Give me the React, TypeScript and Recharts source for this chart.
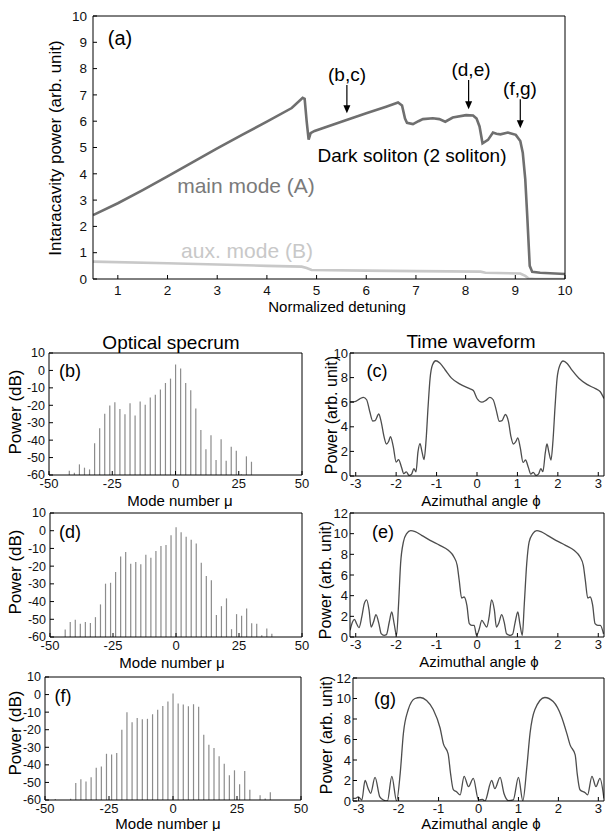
import React from 'react'
import { LineChart, Line, BarChart, Bar, XAxis, YAxis, ReferenceLine } from 'recharts'

const FONT = '"Liberation Sans", Arial, Helvetica, sans-serif'

// ---- (a) detuning scan ----
const detuneTicks = [1, 2, 3, 4, 5, 6, 7, 8, 9, 10]
const powerTicksA = [0, 1, 2, 3, 4, 5, 6, 7, 8, 9, 10]
const mainDetuning = [0.5, 1, 1.5, 2, 2.5, 3, 3.5, 4, 4.5, 4.72, 4.76, 4.8, 4.84, 4.88, 4.96, 5.5, 6, 6.4, 6.64, 6.72, 6.78, 6.82, 6.94, 7.05, 7.14, 7.34, 7.47, 7.59, 7.74, 8.01, 8.15, 8.22, 8.28, 8.34, 8.45, 8.55, 8.62, 8.7, 8.85, 9.01, 9.1, 9.15, 9.2, 9.24, 9.29, 9.34, 9.5, 10]
const mainPower = [2.43, 2.88, 3.38, 3.9, 4.43, 4.97, 5.48, 5.98, 6.5, 6.89, 6.85, 6.0, 5.3, 5.55, 5.63, 5.98, 6.3, 6.55, 6.71, 6.6, 6.1, 5.94, 5.89, 6.0, 6.08, 6.11, 6.08, 5.98, 6.14, 6.23, 6.22, 6.1, 5.8, 5.16, 5.29, 5.57, 5.52, 5.5, 5.57, 5.48, 5.25, 4.8, 3.8, 2.4, 0.5, 0.27, 0.24, 0.19]
const auxDetuning = [0.5, 2, 3, 4, 4.7, 4.8, 4.9, 6, 7, 8.3, 8.4, 9.1, 9.2, 9.27, 9.4, 10]
const auxPower = [0.66, 0.6, 0.55, 0.5, 0.47, 0.42, 0.34, 0.32, 0.3, 0.28, 0.24, 0.21, 0.12, 0.02, 0, 0]
const arrowDetuning = [5.61, 8.06, 9.1]
const arrowFrom = [7.38, 7.57, 6.83]
const arrowTo = [6.3, 6.45, 5.73]

// ---- spectra ----
const modeTicks = [-50, -25, 0, 25, 50]
const dbTicks = [-60, -50, -40, -30, -20, -10, 0, 10]
const DB_FLOOR = -60
const modesB = [-42, -40, -38, -36, -34, -32, -30, -28, -26, -24, -22, -20, -18, -16, -14, -12, -10, -8, -6, -4, -2, 0, 2, 4, 6, 8, 10, 12, 14, 16, 18, 20, 22, 24, 26, 28, 30]
const dbB = [-57.6, -58.7, -53.9, -55.8, -56.8, -41.8, -33.2, -24.9, -20.1, -18.2, -22.1, -25.1, -18.8, -25.9, -17.8, -19.7, -15.5, -13.9, -11, -7.2, -4.7, 3.4, 1.1, -7.2, -11.4, -21.8, -34.2, -45.2, -37.2, -51.4, -39.5, -51.8, -43.8, -46.1, -59.5, -49.3, -52.4]
const modesD = [-44, -42, -40, -38, -36, -34, -32, -30, -28, -26, -24, -22, -20, -18, -16, -14, -12, -10, -8, -6, -4, -2, 0, 2, 4, 6, 8, 10, 12, 14, 16, 18, 20, 22, 24, 26, 28, 30, 32, 34, 36, 38]
const dbD = [-55.7, -51.6, -50.3, -52.5, -51.6, -52.1, -48.8, -41.6, -29.9, -29.4, -23.3, -14.5, -12, -18.6, -17.7, -19, -13.5, -15.2, -11.5, -8.6, -8.0, -2.5, 2.0, -0.9, -3.4, -5.1, -7.2, -18.1, -25.6, -27.9, -47.6, -42.6, -38.2, -55.6, -47.1, -48, -43.9, -52.2, -52.5, -59, -55.2, -58.2]
const modesF = [-46, -40, -38, -36, -34, -32, -30, -28, -26, -24, -22, -20, -18, -16, -14, -12, -10, -8, -6, -4, -2, 0, 2, 4, 6, 8, 10, 12, 14, 16, 18, 20, 22, 24, 26, 28, 30, 34, 36, 38]
const dbF = [-59.5, -59.3, -50.3, -48.2, -49.5, -47, -41.7, -41, -33.7, -34.1, -33.2, -20, -10, -15.7, -13.4, -14, -13.8, -11.2, -8.7, -6.5, -4, 0.6, -5.1, -5.7, -6.6, -5.5, -7, -22.8, -28.5, -30.4, -35.1, -39.3, -45.9, -43.1, -51, -43.5, -54.1, -57.3, -59.2, -55.6]

// ---- time waveforms ----
const phiTicks = [-3, -2, -1, 0, 1, 2, 3]
const powTicksC = [0, 2, 4, 6, 8, 10]
const powTicksEG = [0, 2, 4, 6, 8, 10, 12]
const phiC = [-3.14, -3.02, -2.9, -2.81, -2.73, -2.65, -2.58, -2.52, -2.43, -2.37, -2.3, -2.24, -2.19, -2.14, -2.07, -2.0, -1.94, -1.87, -1.81, -1.75, -1.68, -1.62, -1.56, -1.51, -1.46, -1.41, -1.36, -1.31, -1.26, -1.21, -1.16, -1.1, -1.02, -0.92, -0.79, -0.63, -0.42, -0.21, -0.09, 0.0, 0.12, 0.22, 0.32, 0.4, 0.48, 0.55, 0.62, 0.7, 0.78, 0.84, 0.9, 0.96, 1.01, 1.07, 1.14, 1.2, 1.27, 1.33, 1.39, 1.46, 1.52, 1.58, 1.63, 1.69, 1.73, 1.78, 1.83, 1.88, 1.93, 1.98, 2.05, 2.13, 2.23, 2.35, 2.52, 2.72, 2.93, 3.05, 3.14]
const powC = [6.05, 6.05, 6.27, 6.4, 6.2, 5.2, 4.47, 4.5, 5.04, 4.4, 3.2, 2.6, 2.78, 3.19, 2.37, 1.14, 1.33, 0.74, 0.19, 0.33, 0.05, 0.14, 0.6, 0.33, 1.96, 2.64, 1.96, 1.34, 2.9, 5.64, 7.96, 9.05, 9.37, 9.18, 8.64, 7.96, 7.47, 7.14, 6.95, 6.3, 6.0, 6.15, 6.4, 6.2, 5.3, 4.45, 4.5, 5.0, 4.4, 3.2, 2.6, 2.8, 3.1, 2.3, 1.1, 1.3, 0.7, 0.15, 0.3, 0.05, 0.15, 0.6, 0.35, 1.9, 2.6, 1.9, 1.3, 2.9, 5.6, 7.9, 9.0, 9.35, 9.15, 8.6, 7.95, 7.45, 7.1, 6.85, 6.3]
const phiE = [-3.14, -3.08, -3.03, -2.98, -2.92, -2.85, -2.79, -2.73, -2.67, -2.62, -2.56, -2.5, -2.43, -2.37, -2.3, -2.24, -2.17, -2.11, -2.05, -1.99, -1.94, -1.89, -1.82, -1.74, -1.64, -1.53, -1.37, -1.16, -0.92, -0.71, -0.57, -0.49, -0.44, -0.38, -0.32, -0.25, -0.19, -0.13, -0.07, -0.01, 0.05, 0.12, 0.17, 0.24, 0.3, 0.36, 0.43, 0.48, 0.54, 0.61, 0.68, 0.73, 0.82, 0.88, 0.94, 1.01, 1.06, 1.12, 1.17, 1.23, 1.29, 1.38, 1.48, 1.58, 1.74, 1.95, 2.19, 2.4, 2.55, 2.63, 2.68, 2.74, 2.8, 2.86, 2.92, 2.99, 3.05, 3.13]
const powE = [0.65, 1.45, 1.7, 1.3, 0.9, 1.94, 3.2, 3.6, 2.6, 0.97, 1.45, 2.16, 1.35, 0.32, 0.16, 0.23, 1.45, 2.42, 1.3, 0.16, 3.2, 7.1, 9.2, 10.0, 10.3, 10.2, 9.84, 9.35, 8.87, 8.39, 7.74, 6.94, 5.48, 3.77, 3.87, 3.06, 1.29, 1.13, 1.13, 0.16, 0.7, 1.6, 1.35, 0.97, 1.94, 3.6, 2.6, 0.97, 1.35, 2.16, 1.3, 0.32, 0.16, 0.26, 1.35, 2.42, 1.3, 0.16, 3.2, 7.1, 9.2, 10.0, 10.3, 10.2, 9.84, 9.35, 8.87, 8.39, 7.74, 6.94, 5.48, 3.77, 3.87, 3.1, 1.29, 1.13, 1.13, 0.3]
const phiG = [-3.14, -3.09, -3.01, -2.92, -2.84, -2.76, -2.7, -2.59, -2.47, -2.38, -2.28, -2.17, -2.05, -1.96, -1.88, -1.76, -1.59, -1.46, -1.3, -1.13, -0.96, -0.88, -0.76, -0.7, -0.63, -0.55, -0.46, -0.36, -0.25, -0.13, 0.0, 0.1, 0.16, 0.33, 0.41, 0.54, 0.64, 0.75, 0.87, 1.0, 1.11, 1.21, 1.29, 1.41, 1.66, 1.87, 2.08, 2.21, 2.29, 2.42, 2.47, 2.54, 2.67, 2.73, 2.84, 2.94, 3.04, 3.14]
const powG = [0.25, 0.25, 0.4, 0.1, 2.0, 1.2, 0.75, 2.3, 0.4, 0.1, 0.0, 2.4, 0.0, 2.7, 6.6, 8.9, 10.0, 10.1, 9.8, 8.9, 7.1, 5.6, 4.6, 2.7, 1.1, 0.9, 0.6, 2.4, 1.4, 2.2, 0.1, 0.16, 0.0, 2.0, 1.2, 2.3, 0.7, 0.03, 0.1, 2.3, 0.03, 3.3, 6.6, 8.9, 10.1, 9.7, 8.2, 6.6, 5.5, 4.5, 2.7, 1.1, 0.8, 0.6, 2.4, 1.4, 2.2, 0.25]

const toRows = (xs: number[], ys: number[]) => xs.map((x, i) => ({ x, y: ys[i] }))
const toBars = (xs: number[], db: number[]) => xs.map((x, i) => ({ x, span: [DB_FLOOR, db[i]] }))

// layout
const PAD = 8
const YW = 46
const XH = 24
const MARGIN = { top: PAD, right: PAD, bottom: 0, left: 0 }
type Box = { x: number; y: number; w: number; h: number }
const boxA: Box = { x: 93, y: 16, w: 472, h: 263 }
const boxB: Box = { x: 49, y: 353, w: 253, h: 122 }
const boxC: Box = { x: 350, y: 353, w: 254, h: 123 }
const boxD: Box = { x: 50, y: 513, w: 252, h: 124 }
const boxE: Box = { x: 350, y: 513, w: 254, h: 124 }
const boxF: Box = { x: 45, y: 677, w: 256, h: 123 }
const boxG: Box = { x: 353, y: 678, w: 251, h: 123 }
const PI = Math.PI

const size = (b: Box) => ({ width: YW + b.w + 1 + PAD, height: PAD + 1 + b.h + XH })

function frame(xDomain: number[], xTicks: number[], yDomain: number[], yTicks: number[], fs: number, xm: number, ym: number, yfs = fs) {
  const tickStyle = { fontSize: fs, fill: '#111', fontFamily: FONT }
  const yTickStyle = { fontSize: yfs, fill: '#111', fontFamily: FONT }
  return [
    <XAxis key="xb" xAxisId="b" type="number" dataKey="x" domain={xDomain} ticks={xTicks} interval={0} allowDataOverflow tickSize={-4} tickMargin={xm} tick={tickStyle} stroke="#000" height={XH} />,
    <XAxis key="xt" xAxisId="t" orientation="top" type="number" dataKey="x" domain={xDomain} ticks={xTicks} interval={0} allowDataOverflow tickSize={-4} tick={false} stroke="#000" height={1} />,
    <YAxis key="yl" yAxisId="l" type="number" domain={yDomain} ticks={yTicks} interval={0} allowDataOverflow tickSize={-4} tickMargin={ym} tick={yTickStyle} stroke="#000" width={YW} />,
    <YAxis key="yr" yAxisId="r" orientation="right" type="number" domain={yDomain} ticks={yTicks} interval={0} allowDataOverflow tickSize={-4} tick={false} stroke="#000" width={1} />,
  ]
}

function Slot({ box, children }: { box: Box; children: React.ReactNode }) {
  return <div style={{ position: 'absolute', left: box.x - YW, top: box.y - PAD - 1 }}>{children}</div>
}

function Txt({ x, y, size: fs, color = '#000', rotate = false, children }: any) {
  return (
    <div
      style={{
        position: 'absolute',
        left: x,
        top: y,
        transform: `translate(-50%, -50%)${rotate ? ' rotate(-90deg)' : ''}`,
        fontSize: fs,
        color,
        whiteSpace: 'nowrap',
        lineHeight: 1,
        fontFamily: FONT,
      }}
    >
      {children}
    </div>
  )
}

const ArrowShape = (p: any) => {
  const { x1, y1, x2, y2 } = p
  if ([x1, y1, x2, y2].some((v) => typeof v !== 'number' || isNaN(v))) return <g />
  const dir = y2 > y1 ? 1 : -1
  return (
    <g>
      <line x1={x1} y1={y1} x2={x2} y2={y2 - dir * 6} stroke="#000" strokeWidth={1.2} />
      <path d={`M${x2 - 3.5},${y2 - dir * 8} L${x2 + 3.5},${y2 - dir * 8} L${x2},${y2} Z`} fill="#000" />
    </g>
  )
}

function Spectrum({ box, modes, db }: { box: Box; modes: number[]; db: number[] }) {
  return (
    <Slot box={box}>
      <BarChart {...size(box)} data={toBars(modes, db)} margin={MARGIN} barGap={0} barCategoryGap={0}>
        {frame([-50, 50], modeTicks, [-60, 10], dbTicks, 13, 8, 8, 12.5)}
        <Bar xAxisId="b" yAxisId="l" dataKey="span" fill="#8c8c8c" barSize={1.2} isAnimationActive={false} />
      </BarChart>
    </Slot>
  )
}

function Waveform({ box, phi, pow, yMax, yTicks }: { box: Box; phi: number[]; pow: number[]; yMax: number; yTicks: number[] }) {
  return (
    <Slot box={box}>
      <LineChart {...size(box)} margin={MARGIN}>
        {frame([-PI, PI], phiTicks, [0, yMax], yTicks, 13, 7, 6)}
        <Line xAxisId="b" yAxisId="l" data={toRows(phi, pow)} dataKey="y" type="monotone" stroke="#4d4d4d" strokeWidth={1.3} dot={false} isAnimationActive={false} />
      </LineChart>
    </Slot>
  )
}

export default function App() {
  return (
    <div style={{ position: 'absolute', left: 0, top: 0, width: 606, height: 831, background: '#fff', overflow: 'hidden', fontFamily: FONT }}>
      <Slot box={boxA}>
        <LineChart {...size(boxA)} margin={MARGIN}>
          {frame([0.5, 10], detuneTicks, [0, 10], powerTicksA, 13.5, 10, 10)}
          <Line xAxisId="b" yAxisId="l" data={toRows(auxDetuning, auxPower)} dataKey="y" type="linear" stroke="#c8c8c8" strokeWidth={2.6} dot={false} isAnimationActive={false} />
          <Line xAxisId="b" yAxisId="l" data={toRows(mainDetuning, mainPower)} dataKey="y" type="linear" stroke="#6f6f6f" strokeWidth={2.6} dot={false} isAnimationActive={false} />
          {arrowDetuning.map((d, i) => (
            <ReferenceLine key={i} xAxisId="b" yAxisId="l" segment={[{ x: d, y: arrowFrom[i] }, { x: d, y: arrowTo[i] }]} shape={ArrowShape} />
          ))}
        </LineChart>
      </Slot>

      <Spectrum box={boxB} modes={modesB} db={dbB} />
      <Spectrum box={boxD} modes={modesD} db={dbD} />
      <Spectrum box={boxF} modes={modesF} db={dbF} />
      <Waveform box={boxC} phi={phiC} pow={powC} yMax={10} yTicks={powTicksC} />
      <Waveform box={boxE} phi={phiE} pow={powE} yMax={12} yTicks={powTicksEG} />
      <Waveform box={boxG} phi={phiG} pow={powG} yMax={12} yTicks={powTicksEG} />

      {/* panel (a) text */}
      <Txt x={120} y={38} size={20}>(a)</Txt>
      <Txt x={347} y={74} size={19}>(b,c)</Txt>
      <Txt x={471} y={69} size={19}>(d,e)</Txt>
      <Txt x={520} y={88} size={19}>(f,g)</Txt>
      <Txt x={412} y={155} size={19}>Dark soliton (2 soliton)</Txt>
      <Txt x={246} y={185} size={21} color="#7a7a7a">main mode (A)</Txt>
      <Txt x={247} y={250} size={21} color="#c8c8c8">aux. mode (B)</Txt>
      <Txt x={55} y={148} size={17} rotate>Intaracavity power (arb. unit)</Txt>
      <Txt x={337} y={306} size={15}>Normalized detuning</Txt>

      {/* lower panels text */}
      <Txt x={171} y={342} size={19}>Optical specrum</Txt>
      <Txt x={471} y={341} size={19}>Time waveform</Txt>
      <Txt x={15} y={412} size={17} rotate>Power (dB)</Txt>
      <Txt x={15} y={572} size={17} rotate>Power (dB)</Txt>
      <Txt x={15} y={733} size={17} rotate>Power (dB)</Txt>
      <Txt x={332} y={415} size={16} rotate>Power (arb. unit)</Txt>
      <Txt x={326} y={580} size={16} rotate>Power (arb. unit)</Txt>
      <Txt x={327} y={735} size={16} rotate>Power (arb. unit)</Txt>
      <Txt x={70} y={371} size={18}>(b)</Txt>
      <Txt x={377} y={371} size={18}>(c)</Txt>
      <Txt x={70} y={532} size={18}>(d)</Txt>
      <Txt x={383} y={532} size={18}>(e)</Txt>
      <Txt x={63} y={696} size={18}>(f)</Txt>
      <Txt x={385} y={699} size={18}>(g)</Txt>
      <Txt x={180} y={500} size={15}>Mode number μ</Txt>
      <Txt x={172} y={661.5} size={15}>Mode number μ</Txt>
      <Txt x={168} y={823} size={15}>Mode number μ</Txt>
      <Txt x={481} y={500} size={15}>Azimuthal angle ϕ</Txt>
      <Txt x={479} y={661} size={15}>Azimuthal angle ϕ</Txt>
      <Txt x={481} y={823} size={15}>Azimuthal angle ϕ</Txt>
    </div>
  )
}
